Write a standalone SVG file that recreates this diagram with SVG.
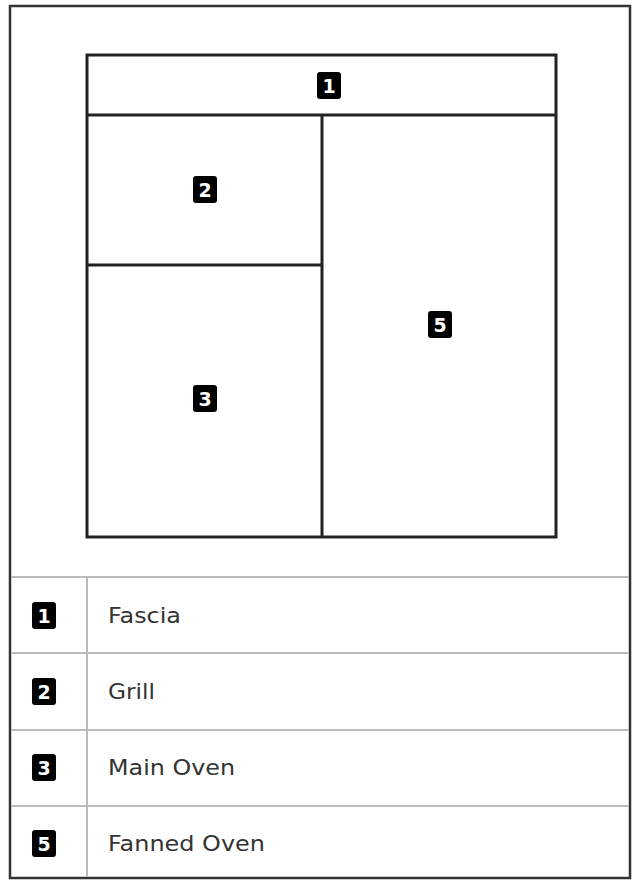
<svg xmlns="http://www.w3.org/2000/svg" width="633" height="880" viewBox="0 0 633 880">
<defs>
<style>
.frame{fill:none;stroke:#333;stroke-width:2.5}
.grid{stroke:#bbb;stroke-width:2;fill:none}
.box{fill:#fff;stroke:#222;stroke-width:3}
.badge{fill:#000}
.num{font-family:"DejaVu Sans","Liberation Sans",sans-serif;font-weight:bold;font-size:19px;fill:#fff;text-anchor:middle}
.lbl{font-family:"DejaVu Sans","Liberation Sans",sans-serif;font-size:22px;fill:#333}
</style>
</defs>
<rect x="0" y="0" width="633" height="880" fill="#fff"/>
<g id="frame">
<rect class="frame" x="10" y="6" width="620" height="872"/>
<line class="grid" x1="11" y1="577" x2="629" y2="577"/>
<line class="grid" x1="11" y1="653" x2="629" y2="653"/>
<line class="grid" x1="11" y1="730" x2="629" y2="730"/>
<line class="grid" x1="11" y1="806" x2="629" y2="806"/>
<line class="grid" x1="87" y1="578" x2="87" y2="877"/>
</g>
<g id="oven">
<rect class="box" x="87" y="55" width="469" height="482"/>
<line class="box" x1="87" y1="115" x2="556" y2="115"/>
<line class="box" x1="322" y1="115" x2="322" y2="537"/>
<line class="box" x1="87" y1="265" x2="322" y2="265"/>
</g>
<g id="zone1"><rect class="badge" x="317" y="72" width="24" height="27" rx="3"/><text class="num" x="329" y="92.5">1</text></g>
<g id="zone2"><rect class="badge" x="193" y="176" width="24" height="27" rx="3"/><text class="num" x="205" y="196.5">2</text></g>
<g id="zone3"><rect class="badge" x="193" y="385" width="24" height="27" rx="3"/><text class="num" x="205" y="405.5">3</text></g>
<g id="zone5"><rect class="badge" x="428" y="311" width="24" height="27" rx="3"/><text class="num" x="440" y="331.5">5</text></g>
<g id="legend1"><rect class="badge" x="32" y="602" width="24" height="27" rx="3"/><text class="num" x="44" y="622.5">1</text><text class="lbl" x="108" y="623" textLength="73" lengthAdjust="spacingAndGlyphs">Fascia</text></g>
<g id="legend2"><rect class="badge" x="32" y="678" width="24" height="27" rx="3"/><text class="num" x="44" y="698.5">2</text><text class="lbl" x="108" y="699" textLength="47" lengthAdjust="spacingAndGlyphs">Grill</text></g>
<g id="legend3"><rect class="badge" x="32" y="754" width="24" height="27" rx="3"/><text class="num" x="44" y="774.5">3</text><text class="lbl" x="108" y="775" textLength="127" lengthAdjust="spacingAndGlyphs">Main Oven</text></g>
<g id="legend5"><rect class="badge" x="32" y="830" width="24" height="27" rx="3"/><text class="num" x="44" y="850.5">5</text><text class="lbl" x="108" y="851" textLength="157" lengthAdjust="spacingAndGlyphs">Fanned Oven</text></g>
</svg>
